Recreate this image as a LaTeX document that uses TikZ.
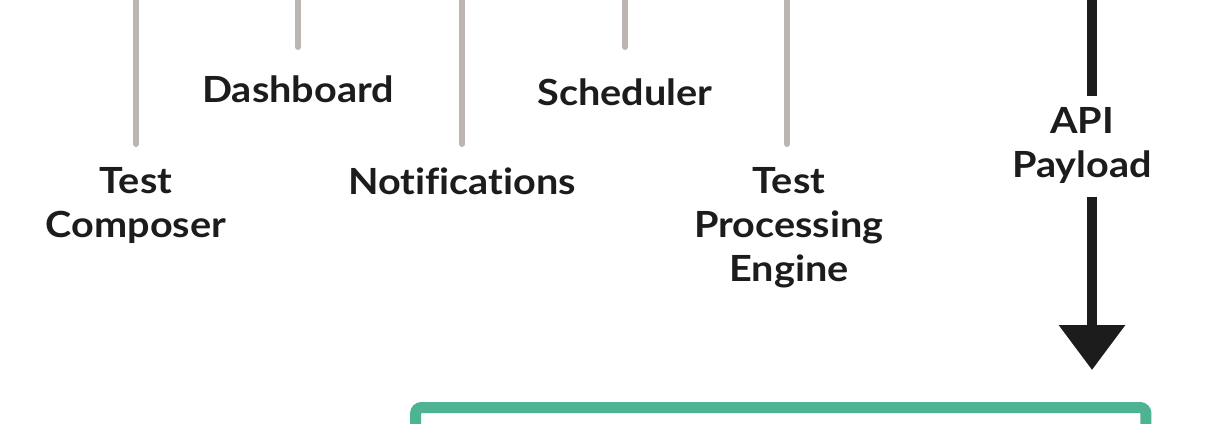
\documentclass[tikz,border=0pt]{standalone}
\usepackage{fontspec}
\setmainfont{Lato}[FakeStretch=1.1, Ligatures=NoCommon]
\usepackage{xcolor}
\usepackage{tikz}
\usetikzlibrary{arrows.meta,positioning}
\definecolor{TickGrey}{HTML}{BDB5B1}
\definecolor{LabelInk}{HTML}{1C1C1C}
\definecolor{PlatformGreen}{HTML}{4DB392}

\begin{document}
\begin{tikzpicture}[
    x=0.02cm, y=-0.02cm,
    lbl/.style={anchor=north, inner sep=0pt, align=center, text=LabelInk,
      font=\fontsize{20.5}{25}\selectfont\bfseries},
    tick/.style={draw=TickGrey, line width=0.12cm, line cap=round, shorten >=0.46cm},
    feed/.style={draw=LabelInk, line width=0.2cm},
    frame/.style={draw=PlatformGreen, line width=0.22cm, rounded corners=0.12cm,
      minimum width=14.61cm, minimum height=4cm}
  ]
    \useasboundingbox (0,0) rectangle (1210,423);
    % feature labels
    \node[lbl] (composer) at (136,167) {Test\\Composer};
    \node[lbl] (dash) at (298,75) {Dashboard};
    \node[lbl] (notif) at (462,167) {Notifications};
    \node[lbl] (sched) at (625,78) {Scheduler};
    \node[lbl] (engine) at (789,167) {Test\\Processing\\Engine};
    \node[lbl] (api) at (1082,107) {API\\Payload};
    \node[frame] (platform) at (780.75,507.5) {};
    % top ends
    \coordinate (composertop) at (136,-10);
    \coordinate (dashtop) at (298,-10);
    \coordinate (notiftop) at (462,-10);
    \coordinate (schedtop) at (625,-10);
    \coordinate (enginetop) at (787,-10);
    \coordinate (apitop) at (1092,-10);
    \draw[tick] (composertop) -- (composer);
    \draw[tick, shorten >=0.56cm] (dashtop) -- (dash);
    \draw[tick] (notiftop) -- (notif);
    \draw[tick, shorten >=0.62cm] (schedtop) -- (sched);
    \draw[tick] (enginetop) -- (enginetop |- engine.north);
    \draw[feed, shorten >=0.22cm] (apitop) -- (apitop |- api.north);
    \draw[feed, -{Triangle[width=1.28cm,length=0.9cm]}, shorten <=0.26cm, shorten >=0.64cm]
      (apitop |- api.south) -- (apitop |- platform.north);
  \end{tikzpicture}
\end{document}
